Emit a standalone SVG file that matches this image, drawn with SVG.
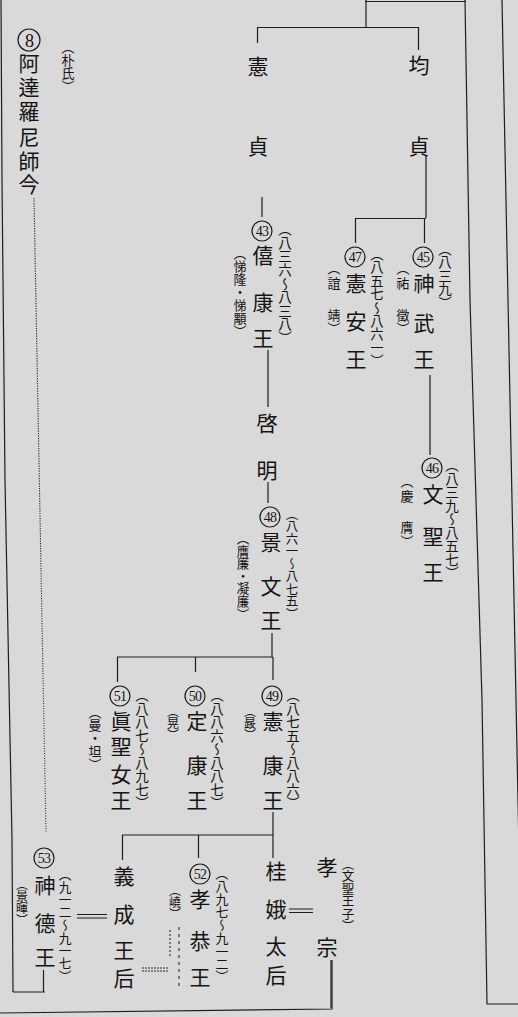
<svg xmlns="http://www.w3.org/2000/svg" width="518" height="1017" viewBox="0 0 518 1017">
<style>
.v{writing-mode:vertical-rl;text-orientation:upright;text-anchor:middle;font-family:'Noto Sans CJK KR','Noto Sans CJK JP',sans-serif;fill:#141414}
.nm{font-size:21px}
.an{font-size:13.5px}
.num{font-family:'Liberation Serif',serif;font-size:14px;text-anchor:middle;dominant-baseline:central;fill:#141414;letter-spacing:-0.8px}
.ring{fill:none;stroke:#1a1a1a;stroke-width:1.2}
.ln{fill:none;stroke:#1e1e1e;stroke-width:1.2}
.dl{fill:none;stroke:#2a2a2a;stroke-width:1.1}
</style>
<rect width="518" height="1017" fill="#d9d9d9"/>
<g id="connectors">
<path class="ln" d="M365 1.5H466" stroke-width="2"/>
<path class="ln" d="M366 0V27 M257 27.5H419 M257.5 27V43 M418.5 27V50 M262 197V217 M426 156V218 M355 218.5H426 M355.5 218V243 M424.5 218V243 M268 350V407 M268 482V503 M430 375V455 M272 633V657 M117 657H273 M117.5 657V682 M195.5 657V672 M273 657V680 M273 812V858 M122 835H273 M122.5 835V860 M198.5 835V858 M43.5 970V992 M13 992H45 M331 960V1008"/>
<path class="ln" d="M77 914.5H107 M77 918H107 M289 909H313 M289 912.5H313"/>
<path class="ln" d="M1 0L2 180L5 480L12 840L13 992"/>
<path class="ln" d="M465 0L470 300L482 700L487 1004H518"/>
<path class="ln" d="M502 0L522 1000" stroke-width="2.6"/>
<path class="ln" d="M0 1013L332 1009V960"/>
<path class="dl" d="M34 198L46 832" stroke-dasharray="1.2 1.3"/>
<path class="dl" d="M142 968H168 M142 971H168" stroke-dasharray="2 1"/>
<path class="dl" d="M170 930V957" stroke-dasharray="2 2"/>
<path class="dl" d="M179 927V987" stroke-dasharray="3 4" stroke-width="1.5"/>
</g>
<g id="n8">
<circle class="ring" cx="29" cy="40" r="11"/>
<text class="num" x="29" y="40.5" style="font-size:18px">8</text>
<text class="v nm" x="29" y="63 87 111 137 161 184">阿達羅尼師今</text>
<text class="v an" x="68" y="47.5 60.5 73.5 86.5" style="font-size:13px">（朴氏）</text>
</g>
<g id="heonjeong">
<text class="v nm" x="258" y="66 146">憲貞</text>
</g>
<g id="gyunjeong">
<text class="v nm" x="419" y="65 146">均貞</text>
</g>
<g id="n43">
<circle class="ring" cx="262" cy="231" r="10"/>
<text class="num" x="262" y="231.5">43</text>
<text class="v nm" x="263" y="255 302 338">僖康王</text>
<text class="v an" x="285" y="229.1 242.7 256.3 269.9 283.5 297.1 310.7 324.3 337.9" style="font-size:13.6px">（八三六～八三八）</text>
<text class="v an" x="240" y="253 266 279 292 305 318 331" style="font-size:13px">（悌隆・悌顒）</text>
</g>
<g id="n47">
<circle class="ring" cx="355" cy="257" r="10"/>
<text class="num" x="355" y="257.5">47</text>
<text class="v nm" x="356" y="283 321 359">憲安王</text>
<text class="v an" x="377" y="253.9 267.3 280.7 294.1 307.5 320.9 334.3 347.7 361.1" style="font-size:13.4px">（八五七～八六一）</text>
<text class="v an" x="334" y="268 283 315 328" style="font-size:13px">（誼靖）</text>
</g>
<g id="n45">
<circle class="ring" cx="423" cy="257" r="10"/>
<text class="num" x="423" y="257.5">45</text>
<text class="v nm" x="424" y="283 323 359">神武王</text>
<text class="v an" x="445" y="248.5 262 275.5 289 302.5">（八三九）</text>
<text class="v an" x="403" y="268 283 315 328" style="font-size:13px">（祐徵）</text>
</g>
<g id="gyemyeong">
<text class="v nm" x="267" y="423 470">啓明</text>
</g>
<g id="n46">
<circle class="ring" cx="432" cy="468" r="10"/>
<text class="num" x="432" y="468.5">46</text>
<text class="v nm" x="433" y="494 536 572">文聖王</text>
<text class="v an" x="452" y="465 478.5 492 505.5 519 532.5 546 559.5 573">（八三九～八五七）</text>
<text class="v an" x="407" y="481 496 527 541" style="font-size:13px">（慶膺）</text>
</g>
<g id="n48">
<circle class="ring" cx="270" cy="517" r="10"/>
<text class="num" x="270" y="517.5">48</text>
<text class="v nm" x="271" y="542 586 620">景文王</text>
<text class="v an" x="292" y="514 526.5 539 551.5 564 576.5 589 601.5 614" style="font-size:12.5px">（八六一～八七五）</text>
<text class="v an" x="243" y="538.2 550.8 563.4 576 588.6 601.2 613.8" style="font-size:12.6px">（膺廉・凝廉）</text>
</g>
<g id="n51">
<circle class="ring" cx="120" cy="696" r="10"/>
<text class="num" x="120" y="696.5">51</text>
<text class="v nm" x="121" y="721 746 774 800">眞聖女王</text>
<text class="v an" x="142" y="695 708.5 722 735.5 749 762.5 776 789.5 803">（八八七～八九七）</text>
<text class="v an" x="95" y="712 725 738 751 764" style="font-size:13px">（曼・坦）</text>
</g>
<g id="n50">
<circle class="ring" cx="195" cy="696" r="10"/>
<text class="num" x="195" y="696.5">50</text>
<text class="v nm" x="197" y="721 765 800">定康王</text>
<text class="v an" x="217" y="695 708.5 722 735.5 749 762.5 776 789.5 803">（八八六～八八七）</text>
<text class="v an" x="173" y="711 723 735" style="font-size:12px">（晃）</text>
</g>
<g id="n49">
<circle class="ring" cx="272" cy="696" r="10"/>
<text class="num" x="272" y="696.5">49</text>
<text class="v nm" x="273" y="721 765 800">憲康王</text>
<text class="v an" x="293" y="695 708.5 722 735.5 749 762.5 776 789.5 803">（八七五～八八六）</text>
<text class="v an" x="250" y="711 723 735" style="font-size:12px">（晸）</text>
</g>
<g id="n53">
<circle class="ring" cx="44" cy="858" r="10"/>
<text class="num" x="44" y="858.5">53</text>
<text class="v nm" x="45" y="885 923 957">神德王</text>
<text class="v an" x="65" y="874.2 886.9 899.6 912.3 925 937.7 950.4 963.1 975.8" style="font-size:12.7px">（九一二～九一七）</text>
<text class="v an" x="22" y="884 896 908 920" style="font-size:12px">（景暉）</text>
</g>
<g id="uiseong">
<text class="v nm" x="124" y="876 914 950 978">義成王后</text>
</g>
<g id="n52">
<circle class="ring" cx="200" cy="874" r="10"/>
<text class="num" x="200" y="874.5">52</text>
<text class="v nm" x="200" y="899 941 977">孝恭王</text>
<text class="v an" x="222" y="873.4 886.3 899.2 912.1 925 937.9 950.8 963.7 976.6" style="font-size:12.9px">（八九七～九一二）</text>
<text class="v an" x="175" y="890 902 914" style="font-size:12px">（嶢）</text>
</g>
<g id="gyea">
<text class="v nm" x="276" y="871 909 946 975">桂娥太后</text>
</g>
<g id="hyojong">
<text class="v nm" x="327" y="867 947">孝宗</text>
<text class="v an" x="348" y="863.75 876.25 888.75 901.25 913.75 926.25" style="font-size:12.5px">（文聖王子）</text>
</g>
</svg>
